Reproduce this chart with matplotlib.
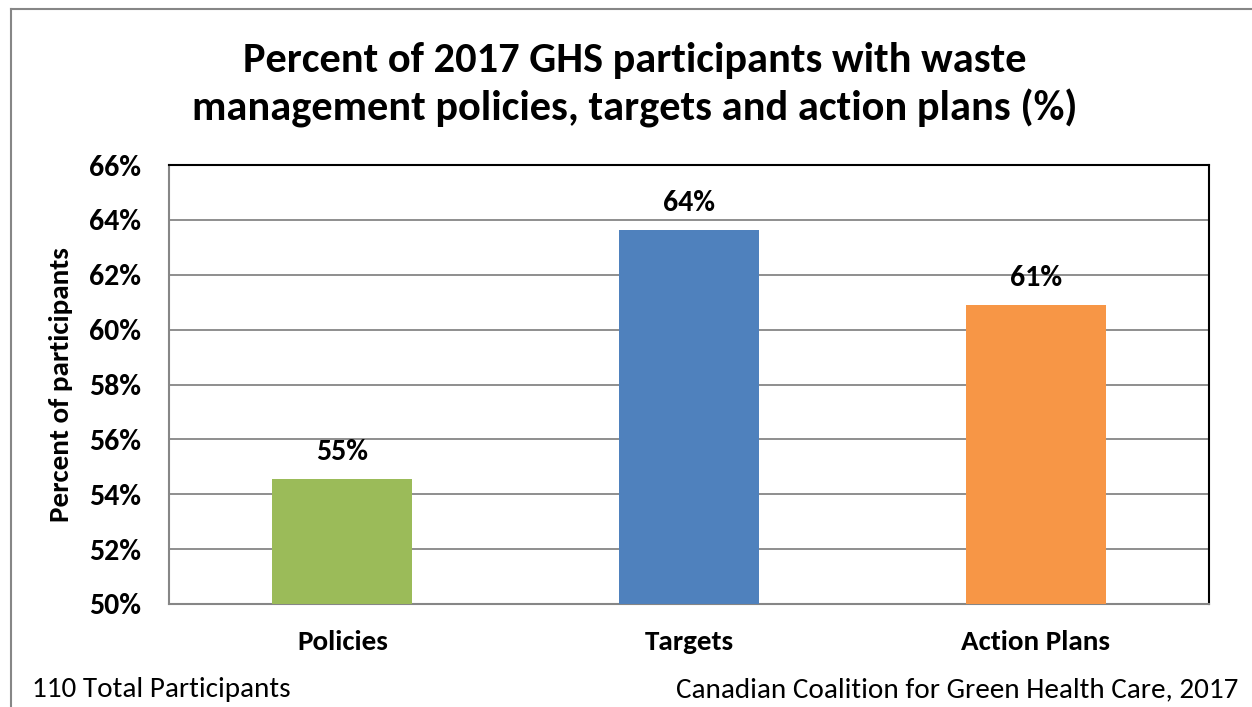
import matplotlib
matplotlib.use("Agg")
import matplotlib.pyplot as plt
from matplotlib.lines import Line2D
from matplotlib.ticker import FuncFormatter

plt.rcParams['font.family'] = ['Carlito', 'Lato', 'DejaVu Sans']

categories = ["Policies", "Targets", "Action Plans"]
counts = [60, 70, 67]
total_participants = 110
values = [c / total_participants * 100 for c in counts]
colors = ["#9BBB59", "#4F81BD", "#F79646"]
yticks = [50, 52, 54, 56, 58, 60, 62, 64, 66]

fig = plt.figure(figsize=(12.52, 7.07), dpi=100)
ax = fig.add_axes([169 / 1252, 1 - 604 / 707, (1209 - 169) / 1252, (604 - 165) / 707])

ax.bar(range(len(categories)), values, width=0.404, color=colors, zorder=3)
ax.set_xlim(-0.5, len(categories) - 0.5)
ax.set_ylim(50, 66)
ax.set_yticks(yticks)
ax.yaxis.set_major_formatter(FuncFormatter(lambda v, p: f"{v:.0f}%"))
ax.set_xticks(range(len(categories)))
ax.set_xticklabels(categories, fontsize=21, fontweight='bold')
ax.tick_params(axis='y', labelsize=21.5, length=0, pad=20)
ax.tick_params(axis='x', length=0, pad=19)
for lbl in ax.get_yticklabels():
    lbl.set_fontweight('bold')

ax.grid(axis='y', color='#868686', linewidth=1.3, zorder=0)
for side in ('left', 'bottom'):
    ax.spines[side].set_color('#868686')
    ax.spines[side].set_linewidth(1.5)
for side in ('top', 'right'):
    ax.spines[side].set_color('black')
    ax.spines[side].set_linewidth(1.5)

for i, v in enumerate(values):
    ax.annotate(f"{v:.0f}%", (i, v), xytext=(0, 10), textcoords='offset points',
                ha='center', va='bottom', fontsize=21.5, fontweight='bold')

ax.set_ylabel("Percent of participants", fontsize=21, fontweight='bold', labelpad=12)

fig.text(0.507, 1 - 85 / 707,
         "Percent of 2017 GHS participants with waste\nmanagement policies, targets and action plans (%)",
         ha='center', va='center', fontsize=30.5, fontweight='bold', linespacing=1.32)

fig.text(32 / 1252, 1 - 690 / 707, "110 Total Participants", ha='left', va='center', fontsize=21)
fig.text(1238 / 1252, 1 - 690 / 707, "Canadian Coalition for Green Health Care, 2017",
         ha='right', va='center', fontsize=21)

# chart frame
fig.add_artist(Line2D([11 / 1252, 11 / 1252], [0, 1 - 9 / 707], transform=fig.transFigure,
                      color='#868686', linewidth=1.5))
fig.add_artist(Line2D([11 / 1252, 1], [1 - 9 / 707, 1 - 9 / 707], transform=fig.transFigure,
                      color='#868686', linewidth=1.5))

fig.savefig("out.png", dpi=100)
